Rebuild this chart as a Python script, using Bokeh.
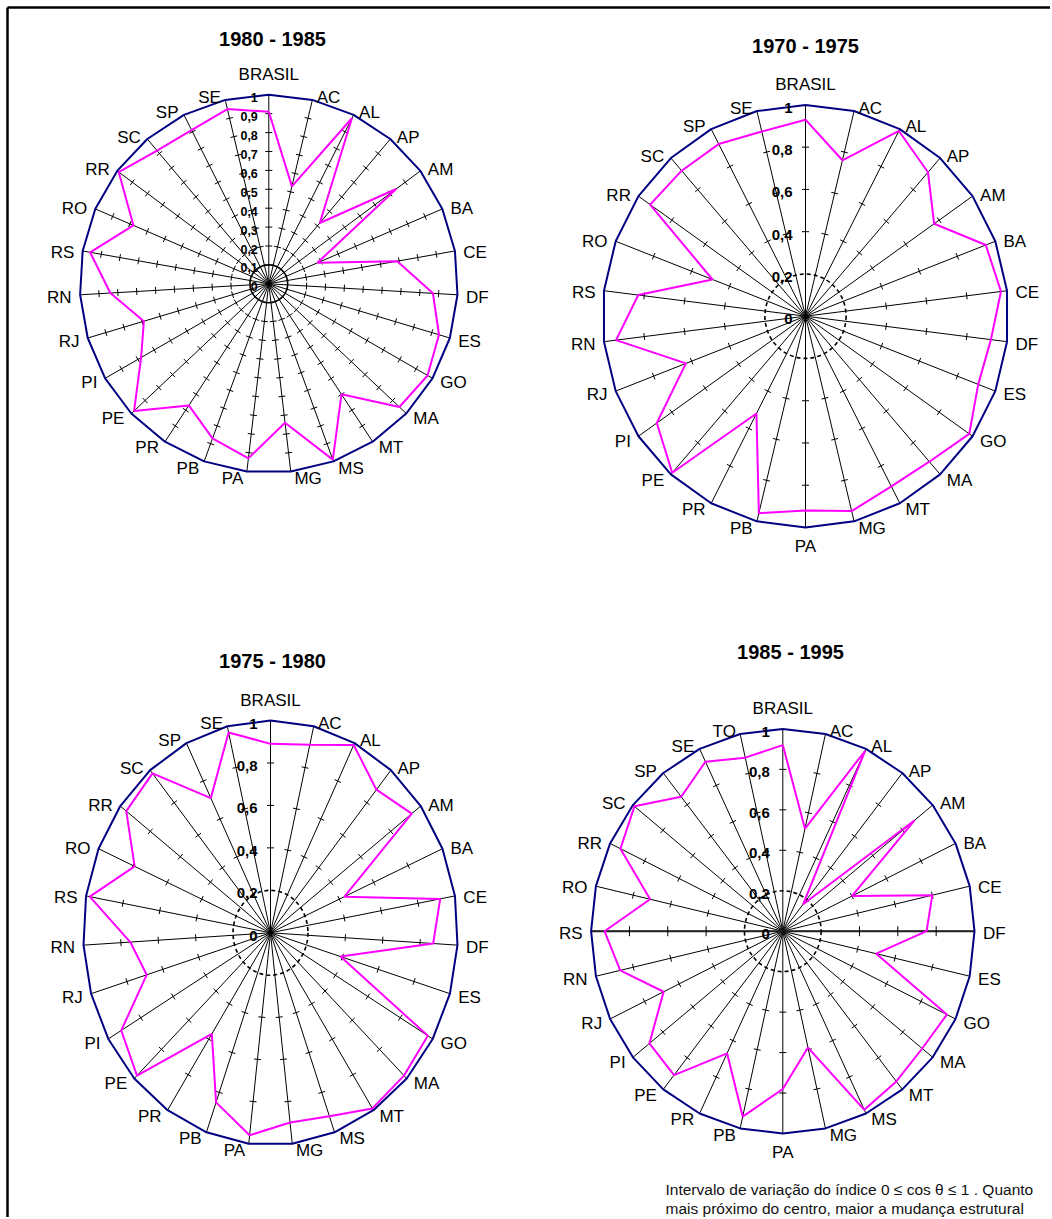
import math
from bokeh.plotting import figure
from bokeh.models import Range1d
from bokeh.embed import file_html
from bokeh.resources import INLINE
from bokeh.core.properties import value

# ---------------- data ----------------
cats_1980_1985 = ["BRASIL", "AC", "AL", "AP", "AM", "BA", "CE", "DF", "ES", "GO", "MA", "MT", "MS", "MG",
                  "PA", "PB", "PR", "PE", "PI", "RJ", "RN", "RS", "RO", "RR", "SC", "SP", "SE"]
vals_1980_1985 = [0.91, 0.53, 0.98, 0.42, 0.84, 0.28, 0.69, 0.87, 0.94, 0.97, 0.95, 0.70, 0.99, 0.74,
                  0.93, 0.87, 0.77, 0.98, 0.78, 0.69, 0.84, 0.96, 0.78, 0.99, 0.92, 0.91, 0.95]

cats_1970_1975 = ["BRASIL", "AC", "AL", "AP", "AM", "BA", "CE", "DF", "ES", "GO", "MA", "MT", "MG",
                  "PA", "PB", "PR", "PE", "PI", "RJ", "RN", "RS", "RO", "RR", "SC", "SP", "SE"]
vals_1970_1975 = [0.93, 0.76, 0.99, 0.91, 0.77, 0.95, 0.97, 0.92, 0.91, 0.98, 0.92, 0.91, 0.95,
                  0.92, 0.96, 0.52, 0.99, 0.89, 0.63, 0.94, 0.83, 0.49, 0.93, 0.92, 0.92, 0.90]

cats_1975_1980 = ["BRASIL", "AC", "AL", "AP", "AM", "BA", "CE", "DF", "ES", "GO", "MA", "MT", "MS", "MG",
                  "PA", "PB", "PR", "PE", "PI", "RJ", "RN", "RS", "RO", "RR", "SC", "SP", "SE"]
vals_1975_1980 = [0.89, 0.91, 0.99, 0.88, 0.94, 0.43, 0.92, 0.87, 0.39, 0.97, 0.98, 0.99, 0.92, 0.90,
                  0.96, 0.85, 0.57, 0.98, 0.92, 0.69, 0.75, 0.98, 0.79, 0.96, 0.98, 0.71, 0.97]

cats_1985_1995 = ["BRASIL", "AC", "AL", "AP", "AM", "BA", "CE", "DF", "ES", "GO", "MA", "MT", "MS", "MG",
                  "PA", "PB", "PR", "PE", "PI", "RJ", "RN", "RS", "RO", "RR", "SC", "SP", "SE", "TO"]
vals_1985_1995 = [0.92, 0.52, 0.99, 0.17, 0.88, 0.40, 0.80, 0.75, 0.50, 0.95, 0.93, 0.95, 0.98, 0.59,
                  0.78, 0.94, 0.67, 0.91, 0.89, 0.69, 0.87, 0.93, 0.71, 0.94, 0.99, 0.85, 0.93, 0.88]

ticks_fine = [0, 0.1, 0.2, 0.3, 0.4, 0.5, 0.6, 0.7, 0.8, 0.9, 1]
tick_labels_fine = ["0", "0,1", "0,2", "0,3", "0,4", "0,5", "0,6", "0,7", "0,8", "0,9", "1"]
ticks_coarse = [0, 0.2, 0.4, 0.6, 0.8, 1]
tick_labels_coarse = ["0", "0,2", "0,4", "0,6", "0,8", "1"]

titles = ["1980 - 1985", "1970 - 1975", "1975 - 1980", "1985 - 1995"]
footnote = ["Intervalo de variação do índice 0 \u2264 cos \u03b8 \u2264 1 . Quanto",
            "mais próximo do centro, maior a mudança estrutural"]

# ---------------- figure ----------------
W, H = 1050, 1217
FONT = value("Liberation Sans")


def X(ix):
    return ix


def Y(iy):
    return H - iy


p = figure(width=W, height=H, x_range=Range1d(0, W), y_range=Range1d(0, H),
           x_axis_type=None, y_axis_type=None, output_backend="svg",
           toolbar_location=None, min_border=0)
p.grid.visible = False
p.outline_line_color = None
p.background_fill_color = "white"

# frame (top and left edges visible)
p.line([X(7), X(7)], [0, Y(7)], line_color="black", line_width=2.5)
p.line([X(7), W], [Y(7), Y(7)], line_color="black", line_width=2.5)


def radar(cats, vals, cxi, cyi, rx, ry, ticks, tlabels, circ_r, dashed, tfs, lab_gap,
          title, tx, ty, thick=()):
    cx, cy = X(cxi), Y(cyi)
    n = len(cats)
    ang = [2 * math.pi * i / n for i in range(n)]
    ex = [cx + rx * math.sin(a) for a in ang]
    ey = [cy + ry * math.cos(a) for a in ang]
    # spokes
    p.segment(x0=[cx] * n, y0=[cy] * n, x1=ex, y1=ey, line_color="black", line_width=1)
    for i in thick:
        p.segment(x0=[cx], y0=[cy], x1=[ex[i]], y1=[ey[i]], line_color="#222222", line_width=2)
    # tick marks
    tx0, ty0, tx1, ty1 = [], [], [], []
    for i, a in enumerate(ang):
        dx, dy = rx * math.sin(a), ry * math.cos(a)
        L = math.hypot(dx, dy)
        ux, uy = dx / L, dy / L
        px, py = -uy, ux
        hl = 5 if i in thick else 3.5
        for t in ticks[1:-1]:
            if t <= circ_r + 1e-9:
                continue
            bx, by = cx + dx * t, cy + dy * t
            tx0.append(bx - px * hl)
            ty0.append(by - py * hl)
            tx1.append(bx + px * hl)
            ty1.append(by + py * hl)
    p.segment(x0=tx0, y0=ty0, x1=tx1, y1=ty1, line_color="black", line_width=1)
    # inner circle
    p.ellipse(x=[cx], y=[cy], width=[2 * rx * circ_r], height=[2 * ry * circ_r],
              fill_color=None, line_color="black", line_width=1.6,
              line_dash="4 3" if dashed else "solid")
    # outer polygon
    p.line(ex + [ex[0]], ey + [ey[0]], line_color="#000080", line_width=2)
    # series
    sx = [cx + rx * v * math.sin(a) for v, a in zip(vals, ang)]
    sy = [cy + ry * v * math.cos(a) for v, a in zip(vals, ang)]
    p.line(sx + [sx[0]], sy + [sy[0]], line_color="#FF00FF", line_width=2)
    # tick labels
    p.text(x=[cx - lab_gap] * len(ticks), y=[cy + ry * t - 3 for t in ticks], text=tlabels,
           text_font=FONT, text_font_size=tfs, text_font_style="bold",
           text_align="right", text_baseline="middle", text_color="black")
    # category labels
    groups = {"left": ([], [], []), "right": ([], [], []), "center": ([], [], [])}
    for i, a in enumerate(ang):
        s, c = math.sin(a), math.cos(a)
        if abs(s) < 0.05:
            g = "center"
            lx = ex[i]
            ly = ey[i] + (20 if c > 0 else -19)
        else:
            g = "left" if s > 0 else "right"
            gap = 3 + 5.5 * abs(s)
            lx = ex[i] + (gap if s > 0 else -gap)
            ly = ey[i] - (2 - 5 * c)
        groups[g][0].append(lx)
        groups[g][1].append(ly)
        groups[g][2].append(cats[i])
    for g, (gx, gy, gt) in groups.items():
        if gt:
            p.text(x=gx, y=gy, text=gt, text_font=FONT, text_font_size="17px",
                   text_align=g, text_baseline="middle", text_color="black")
    # title
    p.text(x=[X(tx)], y=[Y(ty)], text=[title], text_font=FONT, text_font_size="20px",
           text_font_style="bold", text_align="center", text_baseline="middle", text_color="black")


radar(cats_1980_1985, vals_1980_1985, 268.3, 283.3, 189, 189, ticks_fine, tick_labels_fine,
      0.1, False, "12.5px", 11, titles[0], 272, 38)
radar(cats_1970_1975, vals_1970_1975, 805, 315.7, 203, 211.3, ticks_coarse, tick_labels_coarse,
      0.2, True, "15px", 13, titles[1], 805, 45)
radar(cats_1975_1980, vals_1975_1980, 270, 932.3, 187.3, 212.3, ticks_coarse, tick_labels_coarse,
      0.2, True, "15px", 13, titles[2], 272, 660)
radar(cats_1985_1995, vals_1985_1995, 782.3, 930.7, 191.7, 202.3, ticks_coarse, tick_labels_coarse,
      0.2, True, "15px", 13, titles[3], 790, 651, thick=(7, 21))

# footnote
p.text(x=[X(665)] * 2, y=[Y(1189), Y(1208)], text=footnote, text_font=FONT, text_font_size="15.5px",
       text_align="left", text_baseline="middle", text_color="#111111")

open("out.html", "w").write(file_html(p, INLINE))
